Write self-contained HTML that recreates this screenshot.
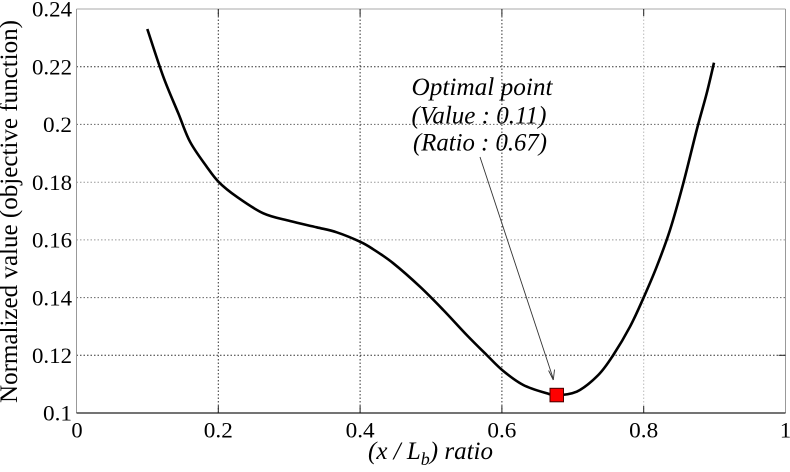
<!DOCTYPE html>
<html>
<head>
<meta charset="utf-8">
<style>
html,body{margin:0;padding:0;background:#fff;}
svg{display:block;}
</style>
</head>
<body>
<svg width="790" height="472" viewBox="0 0 790 472" xmlns="http://www.w3.org/2000/svg" style="font-family:'Liberation Serif','Times New Roman','Nimbus Roman','DejaVu Serif',serif;" font-family="Liberation Serif, Times New Roman, DejaVu Serif, serif">
  <rect x="0" y="0" width="790" height="472" fill="#fff"/>
  <!-- grid -->
  <g stroke="#333" stroke-width="1" stroke-dasharray="1.5 2" fill="none">
    <line x1="218.3" y1="9" x2="218.3" y2="413"/>
    <line x1="360.1" y1="9" x2="360.1" y2="413"/>
    <line x1="501.9" y1="9" x2="501.9" y2="413"/>
    <line x1="643.7" y1="9" x2="643.7" y2="413" stroke="#bbb"/>
    <line x1="76.5" y1="355.3" x2="785.5" y2="355.3"/>
    <line x1="76.5" y1="297.6" x2="785.5" y2="297.6" stroke="#666"/>
    <line x1="76.5" y1="239.9" x2="785.5" y2="239.9" stroke="#999"/>
    <line x1="76.5" y1="182.2" x2="785.5" y2="182.2" stroke="#999"/>
    <line x1="76.5" y1="124.4" x2="785.5" y2="124.4" stroke="#666"/>
    <line x1="76.5" y1="66.7" x2="785.5" y2="66.7"/>
  </g>
  <!-- axes box -->
  <line x1="76.5" y1="9" x2="785.5" y2="9" stroke="#aaa" stroke-width="1"/>
  <line x1="785.5" y1="9" x2="785.5" y2="413" stroke="#999" stroke-width="1"/>
  <line x1="76.5" y1="9" x2="76.5" y2="413" stroke="#999" stroke-width="1"/>
  <line x1="76.5" y1="413" x2="785.5" y2="413" stroke="#222" stroke-width="1.2"/>
  <!-- ticks -->
  <g stroke="#222" stroke-width="1">
    <line x1="218.3" y1="413" x2="218.3" y2="406"/>
    <line x1="360.1" y1="413" x2="360.1" y2="406"/>
    <line x1="501.9" y1="413" x2="501.9" y2="406"/>
    <line x1="643.7" y1="413" x2="643.7" y2="406"/>
    <line x1="218.3" y1="9" x2="218.3" y2="16"/>
    <line x1="360.1" y1="9" x2="360.1" y2="16"/>
    <line x1="501.9" y1="9" x2="501.9" y2="16"/>
    <line x1="643.7" y1="9" x2="643.7" y2="16"/>
    <line x1="785.5" y1="66.7" x2="778.5" y2="66.7"/>
    <line x1="785.5" y1="355.3" x2="778.5" y2="355.3"/>
  </g>
  <!-- y tick labels -->
  <g font-size="22.5" text-anchor="end" fill="#000">
    <text x="72" y="16.7" textLength="40" lengthAdjust="spacingAndGlyphs">0.24</text>
    <text x="72" y="74.4" textLength="40" lengthAdjust="spacingAndGlyphs">0.22</text>
    <text x="72" y="132.1" textLength="29" lengthAdjust="spacingAndGlyphs">0.2</text>
    <text x="72" y="189.9" textLength="40" lengthAdjust="spacingAndGlyphs">0.18</text>
    <text x="72" y="247.6" textLength="40" lengthAdjust="spacingAndGlyphs">0.16</text>
    <text x="72" y="305.3" textLength="40" lengthAdjust="spacingAndGlyphs">0.14</text>
    <text x="72" y="363" textLength="40" lengthAdjust="spacingAndGlyphs">0.12</text>
    <text x="72" y="420.7" textLength="29" lengthAdjust="spacingAndGlyphs">0.1</text>
  </g>
  <!-- x tick labels -->
  <g font-size="22.5" text-anchor="middle" fill="#000">
    <text x="77" y="437.5">0</text>
    <text x="218.3" y="437.5" textLength="29" lengthAdjust="spacingAndGlyphs">0.2</text>
    <text x="360.1" y="437.5" textLength="29" lengthAdjust="spacingAndGlyphs">0.4</text>
    <text x="501.9" y="437.5" textLength="29" lengthAdjust="spacingAndGlyphs">0.6</text>
    <text x="643.7" y="437.5" textLength="29" lengthAdjust="spacingAndGlyphs">0.8</text>
    <text x="785.5" y="437.5">1</text>
  </g>
  <!-- axis labels -->
  <text transform="translate(17,211.5) rotate(-90)" font-size="25" text-anchor="middle" textLength="383" lengthAdjust="spacingAndGlyphs" fill="#000">Normalized value (objective function)</text>
  <text x="368" y="459" font-size="25" font-style="italic" fill="#000">(x / L<tspan font-size="18" dy="6">b</tspan><tspan dy="-6">) ratio</tspan></text>
  <!-- curve -->
  <path fill="none" stroke="#000" stroke-width="2.6" stroke-linejoin="round" stroke-linecap="butt"
    d="M147.3,29
       C149.97,36.95 158.13,62.65 163.3,76.7
       C168.47,90.75 173.85,102.47 178.3,113.3
       C182.75,124.13 185.27,132.8 190,141.7
       C194.73,150.6 201.87,159.93 206.7,166.7
       C211.53,173.47 214,177.3 219,182.3
       C224,187.3 229.32,191.53 236.7,196.7
       C244.08,201.87 254.42,209.25 263.3,213.3
       C272.18,217.35 281.1,218.67 290,221
       C298.9,223.33 308.92,225.42 316.7,227.3
       C324.48,229.18 329.48,229.9 336.7,232.3
       C343.92,234.7 353.9,238.87 360,241.7
       C366.1,244.53 367.75,245.7 373.3,249.3
       C378.85,252.9 385.52,257.07 393.3,263.3
       C401.08,269.53 411.67,278.92 420,286.7
       C428.33,294.48 435.52,301.95 443.3,310
       C451.08,318.05 459.47,327.5 466.7,335
       C473.93,342.5 480.6,349 486.7,355
       C492.8,361 497.2,366 503.3,371
       C509.4,376 516.07,381.28 523.3,385
       C530.53,388.72 541.13,391.63 546.7,393.3
       C552.27,394.97 551.7,395.27 556.7,395.2
       C561.7,395.1 569.77,394.6 576.7,391.7
       C583.63,388.37 592.2,381.12 598.3,375
       C604.4,368.88 608.02,363.05 613.3,355
       C618.58,346.95 625,336.15 630,326.7
       C635,317.25 638.85,308.3 643.3,298.3
       C647.75,288.3 652.25,278.08 656.7,266.7
       C661.15,255.32 665.57,243.9 670,230
       C674.43,216.1 678.85,199.97 683.3,183.3
       C687.75,166.63 692.8,145 696.7,130
       C700.6,115 703.82,104.52 706.7,93.3
       C709.58,82.08 712.78,67.8 714,62.7"/>
  <!-- arrow -->
  <line x1="480" y1="157" x2="553" y2="378" stroke="#333" stroke-width="0.9"/>
  <path d="M553.3,380 L548.6,370.5 M553.3,380 L554.5,369.6" stroke="#333" stroke-width="0.9" fill="none"/>
  <!-- marker -->
  <rect x="550" y="388.3" width="13.5" height="13.5" fill="#ff0000" stroke="#400" stroke-width="1"/>
  <!-- annotation -->
  <g font-size="25" font-style="italic" fill="#000">
    <text x="411.5" y="95" textLength="141" lengthAdjust="spacingAndGlyphs">Optimal point</text>
    <text x="411.5" y="123.5" textLength="135" lengthAdjust="spacingAndGlyphs">(Value : 0.11)</text>
    <text x="413" y="150.5" textLength="134" lengthAdjust="spacingAndGlyphs">(Ratio : 0.67)</text>
  </g>
</svg>
</body>
</html>
